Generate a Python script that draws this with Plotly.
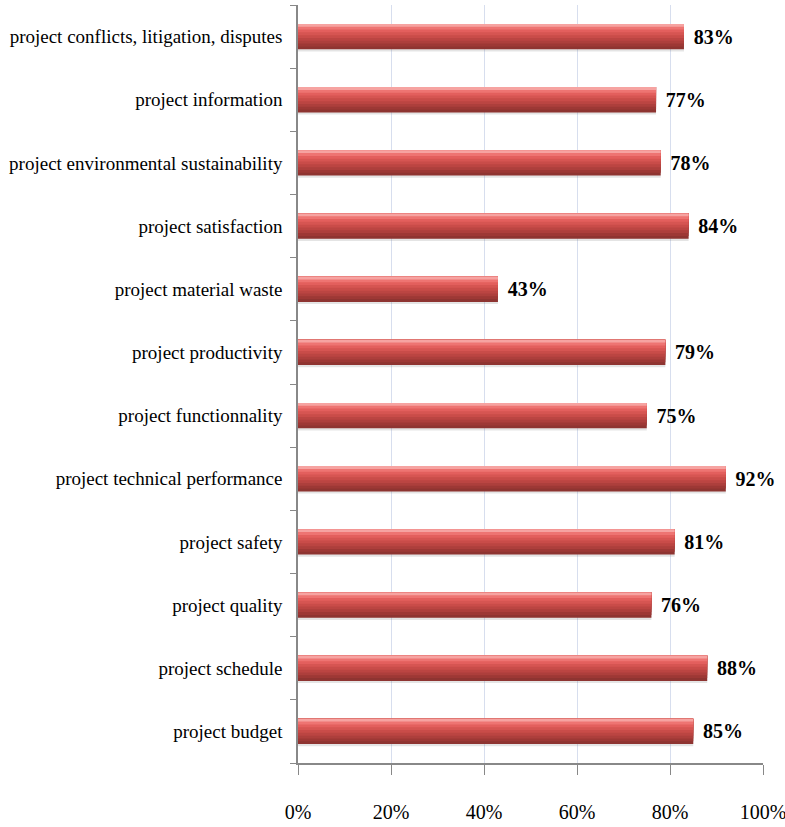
import plotly.graph_objects as go

categories = [
    "project budget",
    "project schedule",
    "project quality",
    "project safety",
    "project technical performance",
    "project functionnality",
    "project productivity",
    "project material waste",
    "project satisfaction",
    "project environmental sustainability",
    "project information",
    "project conflicts, litigation, disputes",
]
values = [85, 88, 76, 81, 92, 75, 79, 43, 84, 78, 77, 83]
x_ticks = [0, 20, 40, 60, 80, 100]

fig = go.Figure()

# shadow under bars
fig.add_trace(go.Bar(
    y=categories, x=values, orientation="h",
    width=0.40, offset=-0.235,
    marker=dict(color="rgba(120,120,120,0.20)", line=dict(width=0)),
    hoverinfo="skip", showlegend=False,
))

# gradient layers (bottom -> top), each covering from the bar top down to its edge
layer_colors = ["#8e3431", "#9d3835", "#ad3f3c", "#bb4542", "#c94c49",
                "#d65552", "#e35f5d", "#ee7472", "#f6a3a1"]
total_w = 0.40
n = len(layer_colors)
step = total_w / n
for i, c in enumerate(layer_colors):
    w = total_w - i * step
    fig.add_trace(go.Bar(
        y=categories, x=values, orientation="h",
        width=w, offset=total_w / 2 - w,
        marker=dict(color=c, line=dict(width=0)),
        hoverinfo="skip", showlegend=False,
    ))

# label trace (transparent) for values
fig.add_trace(go.Bar(
    y=categories, x=values, orientation="h",
    width=total_w, offset=-total_w / 2,
    marker=dict(color="rgba(0,0,0,0)", line=dict(width=0)),
    text=[f"{v}%" for v in values], textposition="outside",
    textfont=dict(family="Liberation Serif", size=20, color="#000000"),
    texttemplate="\u2004<b>%{text}</b>",
    cliponaxis=False, showlegend=False,
))

fig.update_layout(
    width=785, height=827,
    barmode="overlay",
    margin=dict(l=298, r=22, t=5, b=64),
    paper_bgcolor="white", plot_bgcolor="white",
    font=dict(family="Liberation Serif", color="#000000"),
)

fig.update_xaxes(
    range=[0, 100],
    tickvals=x_ticks,
    ticktext=[f"{t}%" for t in x_ticks],
    tickfont=dict(family="Liberation Serif", size=20, color="#000000"),
    showgrid=True, gridcolor="#d7deee", gridwidth=1,
    showline=True, linecolor="#888888", linewidth=1.5,
    ticks="outside", ticklen=10, tickcolor="#888888",
    ticklabelstandoff=20,
    ticklabeloverflow="allow",
    automargin=False,
    zeroline=False,
)

fig.update_yaxes(
    categoryorder="array", categoryarray=categories,
    tickfont=dict(family="Liberation Serif", size=19, color="#000000"),
    showline=True, linecolor="#888888", linewidth=1.5,
    ticks="outside", ticklen=6, tickcolor="#888888",
    tickson="boundaries",
    ticklabelstandoff=10,
    showgrid=False,
    automargin=False,
    range=[-0.5, 11.5],
)

fig.write_html(
    "out.html",
    config={"displayModeBar": False},
    post_script="document.body.style.margin='0';document.body.style.overflow='hidden';",
)
